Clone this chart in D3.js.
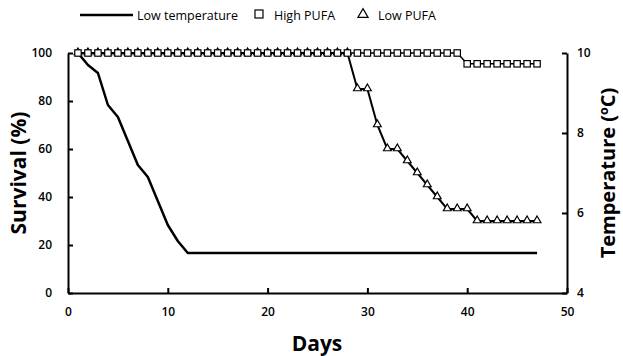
<!DOCTYPE html>
<html>
<head>
<meta charset="utf-8">
<script src="https://cdn.jsdelivr.net/npm/d3@7"></script>
<style>
body { margin: 0; background: #fff; }
text { font-family: "Open Sans", "Liberation Sans", sans-serif; fill: #000; }
</style>
</head>
<body>
<script>

var width = 623,
	height = 356;

// Low temperature (ºC, right axis)
var tempDays = [1, 2, 3, 4, 5, 6, 7, 8, 9, 10, 11, 12, 47];
var tempValues = [10, 9.7, 9.5, 8.7, 8.4, 7.8, 7.2, 6.9, 6.3, 5.7, 5.3, 5.0, 5.0];

// survival (%), left axis
var pufaDays = d3.range(1, 48);
var highPufa = [100, 100, 100, 100, 100, 100, 100, 100, 100, 100,
	100, 100, 100, 100, 100, 100, 100, 100, 100, 100,
	100, 100, 100, 100, 100, 100, 100, 100, 100, 100,
	100, 100, 100, 100, 100, 100, 100, 100, 100, 95.5,
	95.5, 95.5, 95.5, 95.5, 95.5, 95.5, 95.5];
var lowPufa = [100, 100, 100, 100, 100, 100, 100, 100, 100, 100,
	100, 100, 100, 100, 100, 100, 100, 100, 100, 100,
	100, 100, 100, 100, 100, 100, 100, 100, 85, 85,
	70, 60, 60, 55, 50, 45, 40, 35, 35, 35,
	30, 30, 30, 30, 30, 30, 30];

var xTicks = [0, 10, 20, 30, 40, 50];
var yTicks = [0, 20, 40, 60, 80, 100];
var tTicks = [4, 6, 8, 10];

var svg = d3.select('body').append('svg')
			.attr('width', width)
			.attr('height', height);

var x = d3.scaleLinear().domain([0, 50]).range([68, 567]);
var y = d3.scaleLinear().domain([0, 100]).range([293, 53]);
var yT = d3.scaleLinear().domain([4, 10]).range([293, 53]);

// axes
svg.append('g')
	.attr('transform', 'translate(0,293)')
	.call(d3.axisBottom(x).tickValues(xTicks).tickSizeInner(-5).tickSizeOuter(0).tickPadding(14));

svg.append('g')
	.attr('transform', 'translate(68,0)')
	.call(d3.axisLeft(y).tickValues(yTicks).tickSizeInner(-5).tickSizeOuter(0).tickPadding(16));

svg.append('g')
	.attr('transform', 'translate(567,0)')
	.call(d3.axisRight(yT).tickValues(tTicks).tickFormat(d3.format('d'))
		.tickSizeInner(-5).tickSizeOuter(0).tickPadding(10));

svg.selectAll('.domain').attr('stroke', '#000').attr('stroke-width', 2);
svg.selectAll('.tick line').attr('stroke', '#000').attr('stroke-width', 2);
svg.selectAll('.tick text')
	.style('font-size', '12px')
	.style('font-weight', 600)
	.attr('fill', '#000');

// axis titles
svg.append('text')
	.attr('x', 317).attr('y', 351)
	.attr('text-anchor', 'middle')
	.style('font-size', '21px').style('font-weight', 700)
	.text('Days');

svg.append('text')
	.attr('transform', 'translate(26,173) rotate(-90)')
	.attr('text-anchor', 'middle')
	.style('font-size', '21px').style('font-weight', 700)
	.text('Survival (%)');

svg.append('text')
	.attr('transform', 'translate(615,173) rotate(-90)')
	.attr('text-anchor', 'middle')
	.style('font-size', '20px').style('font-weight', 700)
	.text('Temperature (ºC)');

// lines
var line = d3.line()
	.x(function(d){ return x(d[0]); })
	.y(function(d){ return y(d[1]); });

var tempLine = d3.line()
	.x(function(d){ return x(d[0]); })
	.y(function(d){ return yT(d[1]); });

var lowData = pufaDays.map(function(d, i){ return [d, lowPufa[i]]; });
var highData = pufaDays.map(function(d, i){ return [d, highPufa[i]]; });
var tempData = tempDays.map(function(d, i){ return [d, tempValues[i]]; });

svg.append('path')
	.datum(tempData)
	.attr('d', tempLine)
	.attr('fill', 'none')
	.attr('stroke', '#000')
	.attr('stroke-width', 2.5)
	.attr('stroke-linejoin', 'round');

svg.append('path')
	.datum(lowData)
	.attr('d', line)
	.attr('fill', 'none')
	.attr('stroke', '#000')
	.attr('stroke-width', 2);

var tri = d3.symbol().type(d3.symbolTriangle).size(26);
svg.selectAll('.tri')
	.data(lowData)
	.enter().append('path').classed('tri', true)
	.attr('d', tri)
	.attr('transform', function(d){ return 'translate(' + x(d[0]) + ',' + (y(d[1]) - 0.5) + ')'; })
	.attr('fill', '#fff')
	.attr('stroke', '#000')
	.attr('stroke-width', 1.2);

svg.append('path')
	.datum(highData)
	.attr('d', line)
	.attr('fill', 'none')
	.attr('stroke', '#000')
	.attr('stroke-width', 1.5);

svg.selectAll('.sq')
	.data(highData)
	.enter().append('rect').classed('sq', true)
	.attr('x', function(d){ return x(d[0]) - 3.2; })
	.attr('y', function(d){ return y(d[1]) - 3.2; })
	.attr('width', 6.4)
	.attr('height', 6.4)
	.attr('fill', '#fff')
	.attr('stroke', '#000')
	.attr('stroke-width', 1.2);

// legend
var legend = svg.append('g');
legend.append('line')
	.attr('x1', 80).attr('x2', 133).attr('y1', 15).attr('y2', 15)
	.attr('stroke', '#000').attr('stroke-width', 2.5);
legend.append('text').attr('x', 137).attr('y', 20)
	.style('font-size', '12.5px').text('Low temperature');

legend.append('rect')
	.attr('x', 255).attr('y', 10).attr('width', 8).attr('height', 8)
	.attr('fill', '#fff').attr('stroke', '#000').attr('stroke-width', 1.2);
legend.append('text').attr('x', 274).attr('y', 20)
	.style('font-size', '12.5px').text('High PUFA');

legend.append('path')
	.attr('d', d3.symbol().type(d3.symbolTriangle).size(45))
	.attr('transform', 'translate(363,14.5)')
	.attr('fill', '#fff').attr('stroke', '#000').attr('stroke-width', 1.2);
legend.append('text').attr('x', 378).attr('y', 20)
	.style('font-size', '12.5px').text('Low PUFA');

</script>
</body>
</html>
